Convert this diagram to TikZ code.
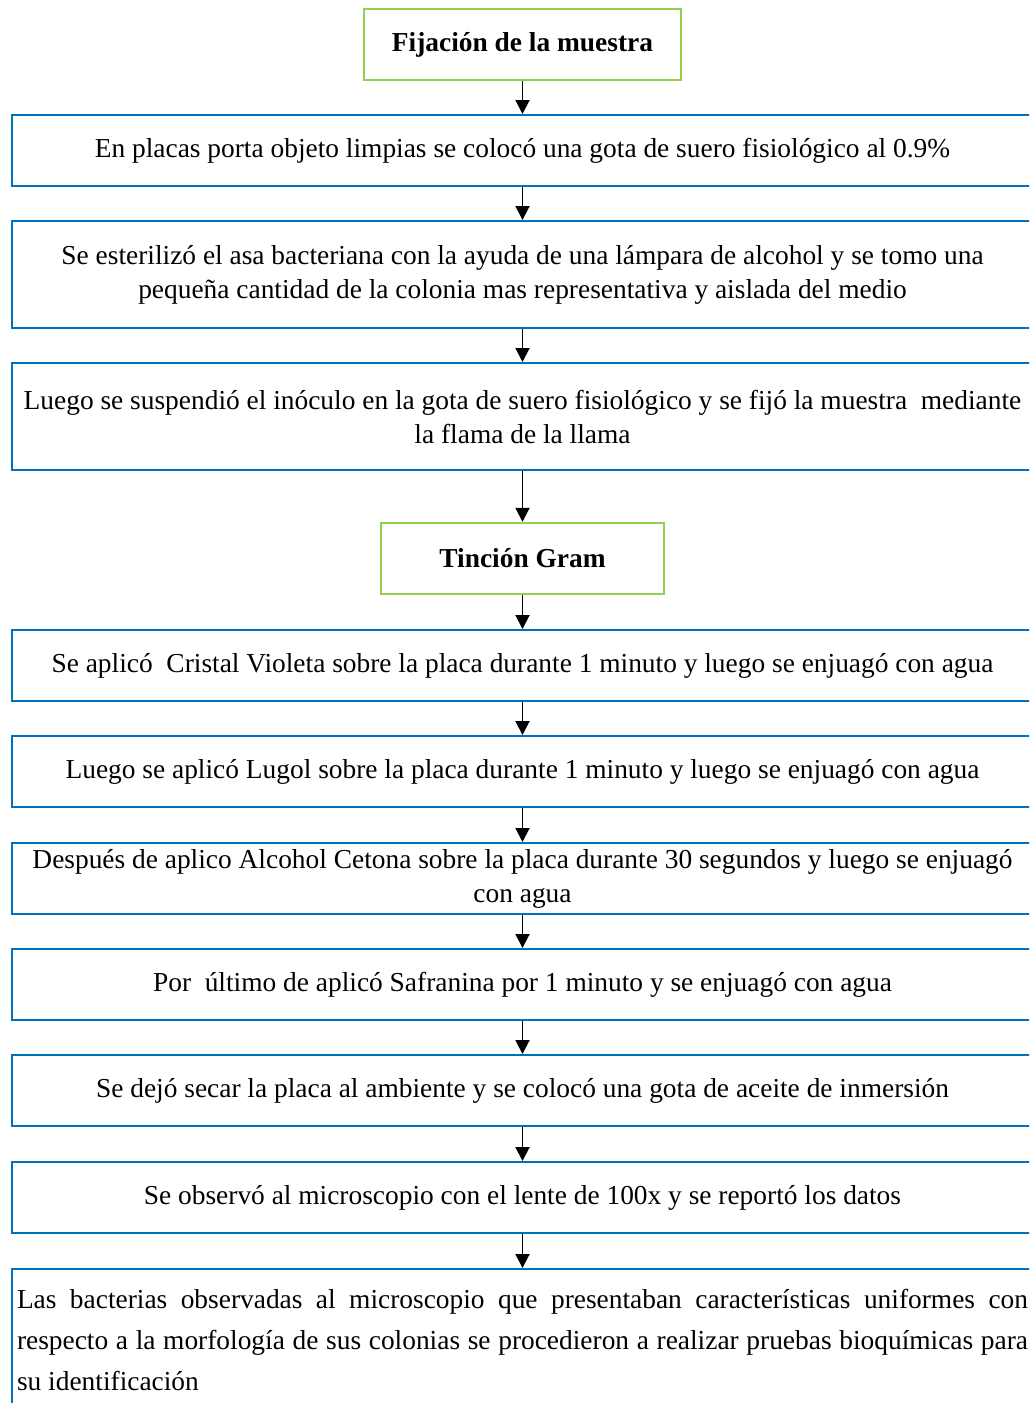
\documentclass[tikz,border=0pt]{standalone}
\usepackage{fontspec}
\setmainfont{Liberation Serif}
\usetikzlibrary{arrows.meta}
\definecolor{stepblue}{RGB}{0,112,192}
\definecolor{headgreen}{RGB}{146,208,80}
\newcommand{\boxfont}[1]{\fontsize{27.4}{#1}\selectfont}
\begin{document}
\begin{tikzpicture}[x=1pt,y=-1pt,
  every node/.style={font=\boxfont{34}},
  headbox/.style={draw=headgreen,line width=2.4pt,minimum height=71pt,inner sep=0pt,
    font=\boxfont{34}\bfseries},
  stepbox/.style={draw=stepblue,line width=2pt,minimum width=1021pt,minimum height=71pt,
    inner sep=0pt,align=center,text width=1015pt,
    execute at begin node={\spaceskip=0.25em\relax}},
  tallbox/.style={stepbox,minimum height=107pt},
  flow/.style={line width=1.9pt,-{Triangle[width=14pt,length=14pt]}}]
\useasboundingbox (0,0) rectangle (1029,1403);
\clip (0,0) rectangle (1029,1403);

\node[headbox,minimum width=317pt] (fix) at (522.5,44.5) {Fijación de la muestra};
\node[stepbox] (s1) at (522.5,150.5) {En placas porta objeto limpias se colocó una gota de suero fisiológico al 0.9\%};
\node[tallbox] (s2) at (522.5,274.5) {Se esterilizó el asa bacteriana con la ayuda de una lámpara de alcohol y se tomo una\\pequeña cantidad de la colonia mas representativa y aislada del medio};
\node[tallbox] (s3) at (522.5,416.5) {Luego se suspendió el inóculo en la gota de suero fisiológico y se fijó la muestra\ \ mediante\\la flama de la llama};
\node[headbox,minimum width=283pt] (gram) at (522.5,558.5) {Tinción Gram};
\node[stepbox] (s4) at (522.5,665.5) {Se aplicó\ \ Cristal Violeta sobre la placa durante 1 minuto y luego se enjuagó con agua};
\node[stepbox] (s5) at (522.5,771.5) {Luego se aplicó Lugol sobre la placa durante 1 minuto y luego se enjuagó con agua};
\node[stepbox] (s6) at (522.5,878.5) {Después de aplico Alcohol Cetona sobre la placa durante 30 segundos y luego se enjuagó\\con agua};
\node[stepbox] (s7) at (522.5,984.5) {Por\ \ último de aplicó Safranina por 1 minuto y se enjuagó con agua};
\node[stepbox] (s8) at (522.5,1090.5) {Se dejó secar la placa al ambiente y se colocó una gota de aceite de inmersión};
\node[stepbox] (s9) at (522.5,1197.5) {Se observó al microscopio con el lente de 100x y se reportó los datos};
\node[draw=stepblue,line width=2pt,anchor=north,minimum width=1021pt,minimum height=0pt,
  inner xsep=4pt,inner ysep=20pt,text width=1011pt,align=justify,
  font=\boxfont{41}] (s10) at (522.5,1268)
  {Las bacterias observadas al microscopio que presentaban características uniformes con\linebreak
   respecto a la morfología de sus colonias se procedieron a realizar pruebas bioquímicas para\linebreak
   su identificación\par};

\draw[flow] (fix) -- (s1);
\draw[flow] (s1) -- (s2);
\draw[flow] (s2) -- (s3);
\draw[flow] (s3) -- (gram);
\draw[flow] (gram) -- (s4);
\draw[flow] (s4) -- (s5);
\draw[flow] (s5) -- (s6);
\draw[flow] (s6) -- (s7);
\draw[flow] (s7) -- (s8);
\draw[flow] (s8) -- (s9);
\draw[flow] (s9) -- (s10);
\end{tikzpicture}
\end{document}
